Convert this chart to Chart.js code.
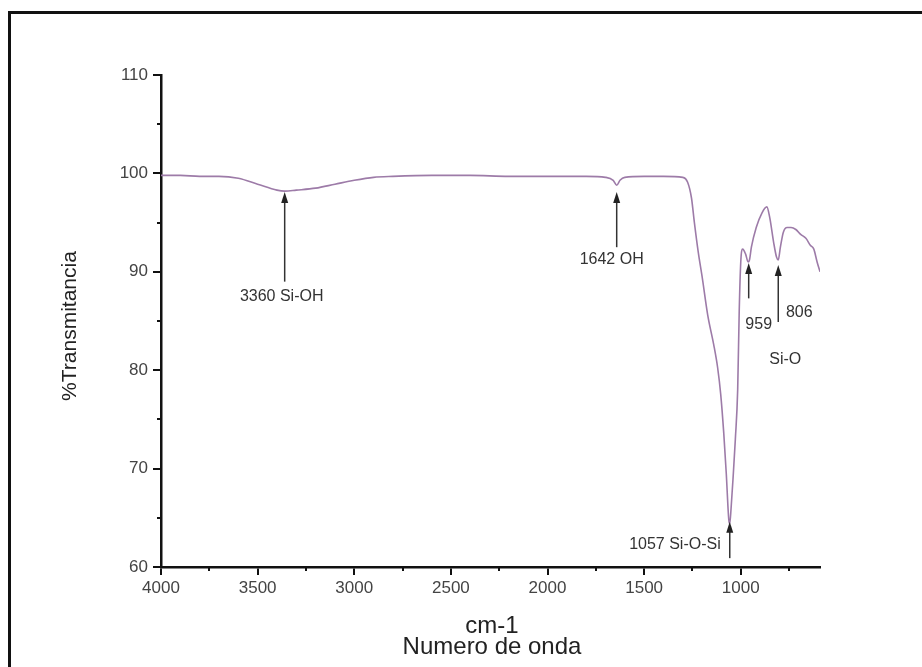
<!DOCTYPE html>
<html>
<head>
<meta charset="utf-8">
<script src="https://cdn.jsdelivr.net/npm/chart.js@4.4.0/dist/chart.umd.min.js"></script>
<style>
  html, body { margin: 0; padding: 0; background: #fff; }
  #wrap { width: 922px; height: 667px; }
</style>
</head>
<body>
<div id="wrap"><canvas id="ftir" width="922" height="667"></canvas></div>
<script>
// FTIR spectrum (wavenumber cm-1 -> %T)
const wavenumbers = [4000, 3900, 3800, 3700, 3600, 3500, 3400, 3360, 3300, 3200, 3100, 3000, 2900, 2800,
  2600, 2400, 2200, 2000, 1800, 1700, 1660, 1642, 1625, 1600, 1500, 1400, 1300, 1275, 1255, 1240,
  1220, 1200, 1171, 1140, 1120, 1104, 1088, 1075, 1062, 1057, 1050, 1040, 1028, 1016, 1008, 1000, 990,
  975, 962, 955, 945, 920, 890, 865, 850, 830, 815, 806, 795, 780, 760, 740, 715, 690, 663, 640,
  622, 605, 590];
const transmittance = [99.8, 99.8, 99.7, 99.7, 99.5, 98.9, 98.3, 98.2, 98.3, 98.5, 98.9, 99.3, 99.6, 99.7,
  99.8, 99.8, 99.7, 99.7, 99.7, 99.6, 99.3, 98.8, 99.3, 99.6, 99.7, 99.7, 99.6, 99.1, 97.5, 95.0,
  92.0, 89.5, 85.6, 82.6, 80.3, 77.6, 73.6, 69.5, 64.8, 64.4, 66.0, 69.0, 73.0, 78.0, 86.0, 91.0, 92.3,
  91.8, 91.0, 91.2, 92.5, 94.5, 96.0, 96.6, 95.5, 93.0, 91.5, 91.2, 92.5, 94.0, 94.5, 94.5, 94.3, 93.8, 93.4, 92.7,
  92.3, 91.0, 90.0];

const xTicks = [4000, 3500, 3000, 2500, 2000, 1500, 1000];
const xMinor = [3750, 3250, 2750, 2250, 1750, 1250, 750];
const yMinor = [65, 75, 85, 95, 105];

// peak annotations: position, arrow tip / tail (%T), text
const peakPos = [3360, 1642, 959, 806, 1057];
const peakTip = [98.1, 98.1, 90.9, 90.7, 64.6];
const peakTail = [89.0, 92.5, 87.3, 84.9, 60.9];
const peakText = ["3360 Si-OH", "1642 OH", "959", "806", "1057 Si-O-Si"];

const FONT = "Liberation Sans, Arial, sans-serif";

const decor = {
  id: "decor",
  beforeDraw(chart) {
    const c = chart.ctx;
    c.save();
    c.fillStyle = "#fff";
    c.fillRect(0, 0, chart.width, chart.height);
    c.strokeStyle = "#111";
    c.lineWidth = 3;
    c.beginPath();
    c.moveTo(922, 12.5);
    c.lineTo(9.5, 12.5);
    c.lineTo(9.5, 667);
    c.stroke();
    c.restore();
  },
  afterDraw(chart) {
    const c = chart.ctx;
    const xs = chart.scales.x, ys = chart.scales.y;
    const area = chart.chartArea;
    c.save();
    // minor ticks
    c.strokeStyle = "#111";
    c.lineWidth = 2;
    c.beginPath();
    xMinor.forEach(v => {
      const px = Math.round(xs.getPixelForValue(v));
      c.moveTo(px, area.bottom);
      c.lineTo(px, area.bottom + 4);
    });
    yMinor.forEach(v => {
      const py = Math.round(ys.getPixelForValue(v));
      c.moveTo(area.left, py);
      c.lineTo(area.left - 4, py);
    });
    c.stroke();

    // arrows
    c.strokeStyle = "#333";
    c.fillStyle = "#222";
    c.lineWidth = 1.5;
    peakPos.forEach((p, i) => {
      const px = xs.getPixelForValue(p);
      const tip = ys.getPixelForValue(peakTip[i]);
      const tail = ys.getPixelForValue(peakTail[i]);
      c.beginPath();
      c.moveTo(px, tail);
      c.lineTo(px, tip + 8);
      c.stroke();
      c.beginPath();
      c.moveTo(px, tip);
      c.lineTo(px - 3.5, tip + 11);
      c.lineTo(px + 3.5, tip + 11);
      c.closePath();
      c.fill();
    });

    // arrow labels
    c.fillStyle = "#333";
    c.font = "16px " + FONT;
    c.textBaseline = "middle";
    const lbl = (t, x, y, align) => { c.textAlign = align; c.fillText(t, x, y); };
    const tx = i => xs.getPixelForValue(peakPos[i]);
    const ty = v => ys.getPixelForValue(v);
    lbl(peakText[0], tx(0) - 3, ty(87.5), "center");
    lbl(peakText[1], tx(1) - 5, ty(91.2), "center");
    lbl(peakText[2], tx(2) + 10, ty(84.6), "center");
    lbl(peakText[3], tx(3) + 21, ty(85.9), "center");
    lbl("Si-O", tx(3) + 7, ty(81.1), "center");
    lbl(peakText[4], tx(4) - 9, ty(62.3), "right");

    // axis titles
    c.fillStyle = "#222";
    c.font = "24px " + FONT;
    c.textAlign = "center";
    c.fillText("cm-1", 492, 626);
    c.fillText("Numero de onda", 492, 647);
    c.translate(70, 326);
    c.rotate(-Math.PI / 2);
    c.font = "21px " + FONT;
    c.fillText("%Transmitancia", 0, 0);
    c.restore();
  }
};

new Chart(document.getElementById("ftir"), {
  type: "line",
  data: {
    datasets: [{
      data: wavenumbers.map((w, i) => ({ x: w, y: transmittance[i] })),
      borderColor: "#9d7ba8",
      borderWidth: 1.6,
      pointRadius: 0,
      cubicInterpolationMode: "monotone",
      fill: false,
    }],
  },
  options: {
    responsive: false,
    animation: false,
    events: [],
    layout: { padding: { top: 75, right: 102, left: 0, bottom: 0 } },
    plugins: { legend: { display: false }, tooltip: { enabled: false } },
    scales: {
      x: {
        type: "linear",
        reverse: true,
        min: 590,
        max: 4000,
        afterBuildTicks: s => { s.ticks = xTicks.map(v => ({ value: v })); },
        afterFit: s => { s.height = 100; },
        grid: { drawOnChartArea: false, tickLength: 8, color: "#111", lineWidth: 2 },
        border: { color: "#111", width: 2.5 },
        ticks: {
          color: "#444", font: { size: 17, family: FONT }, padding: 3, maxRotation: 0,
          callback: v => String(v),
        },
      },
      y: {
        min: 60,
        max: 110,
        afterFit: s => { s.width = 161; },
        grid: { drawOnChartArea: false, tickLength: 8, color: "#111", lineWidth: 2 },
        border: { color: "#111", width: 2.5 },
        ticks: { stepSize: 10, color: "#444", font: { size: 17, family: FONT }, padding: 5 },
      },
    },
  },
  plugins: [decor],
});
</script>
</body>
</html>
